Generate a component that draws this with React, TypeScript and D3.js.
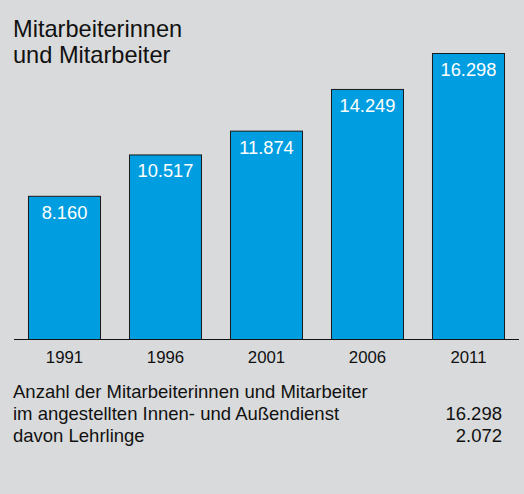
import React from "react";
import * as d3 from "d3";

const years = ["1991", "1996", "2001", "2006", "2011"];
const values = [8160, 10517, 11874, 14249, 16298];
const valueLabels = ["8.160", "10.517", "11.874", "14.249", "16.298"];
const titleLines = ["Mitarbeiterinnen", "und Mitarbeiter"];
const footerLines = [
  "Anzahl der Mitarbeiterinnen und Mitarbeiter",
  "im angestellten Innen- und Außendienst",
  "davon Lehrlinge",
];
const footerValues = ["", "16.298", "2.072"];

export default function App() {
  const W = 524;
  const H = 494;
  const baseY = 339;
  const x = d3.scaleBand<string>().domain(years).range([14, 519]).paddingInner(0.277).paddingOuter(0.1385);
  const y = d3.scaleLinear().domain([0, 16298]).range([baseY, 53]);
  const font = "'Liberation Sans', Arial, sans-serif";
  return (
    <svg width={W} height={H} style={{ position: "absolute", left: 0, top: 0 }} fontFamily={font}>
      <rect x={0} y={0} width={W} height={H} fill="#d9dadb" />
      {titleLines.map((t, i) => (
        <text key={i} x={13} y={37 + i * 26} fontSize={23.6} fill="#111">{t}</text>
      ))}
      {values.map((v, i) => {
        const bx = x(years[i])!;
        const bw = x.bandwidth();
        const by = y(v);
        return (
          <g key={years[i]}>
            <rect x={bx + 0.5} y={by + 0.5} width={bw - 1} height={baseY - by} fill="#009ee0" stroke="#1a1a1a" strokeWidth={1} />
            <text x={bx + bw / 2} y={by + 23} textAnchor="middle" fontSize={18.3} fill="#fff">{valueLabels[i]}</text>
            <text x={bx + bw / 2} y={363} textAnchor="middle" fontSize={16.8} fill="#111">{years[i]}</text>
          </g>
        );
      })}
      <line x1={14} x2={519} y1={baseY + 0.5} y2={baseY + 0.5} stroke="#111" strokeWidth={1} />
      {footerLines.map((t, i) => (
        <g key={i}>
          <text x={13} y={398 + i * 22} fontSize={18.5} fill="#111">{t}</text>
          {footerValues[i] && (
            <text x={502} y={398 + i * 22} fontSize={18.5} fill="#111" textAnchor="end">{footerValues[i]}</text>
          )}
        </g>
      ))}
    </svg>
  );
}
